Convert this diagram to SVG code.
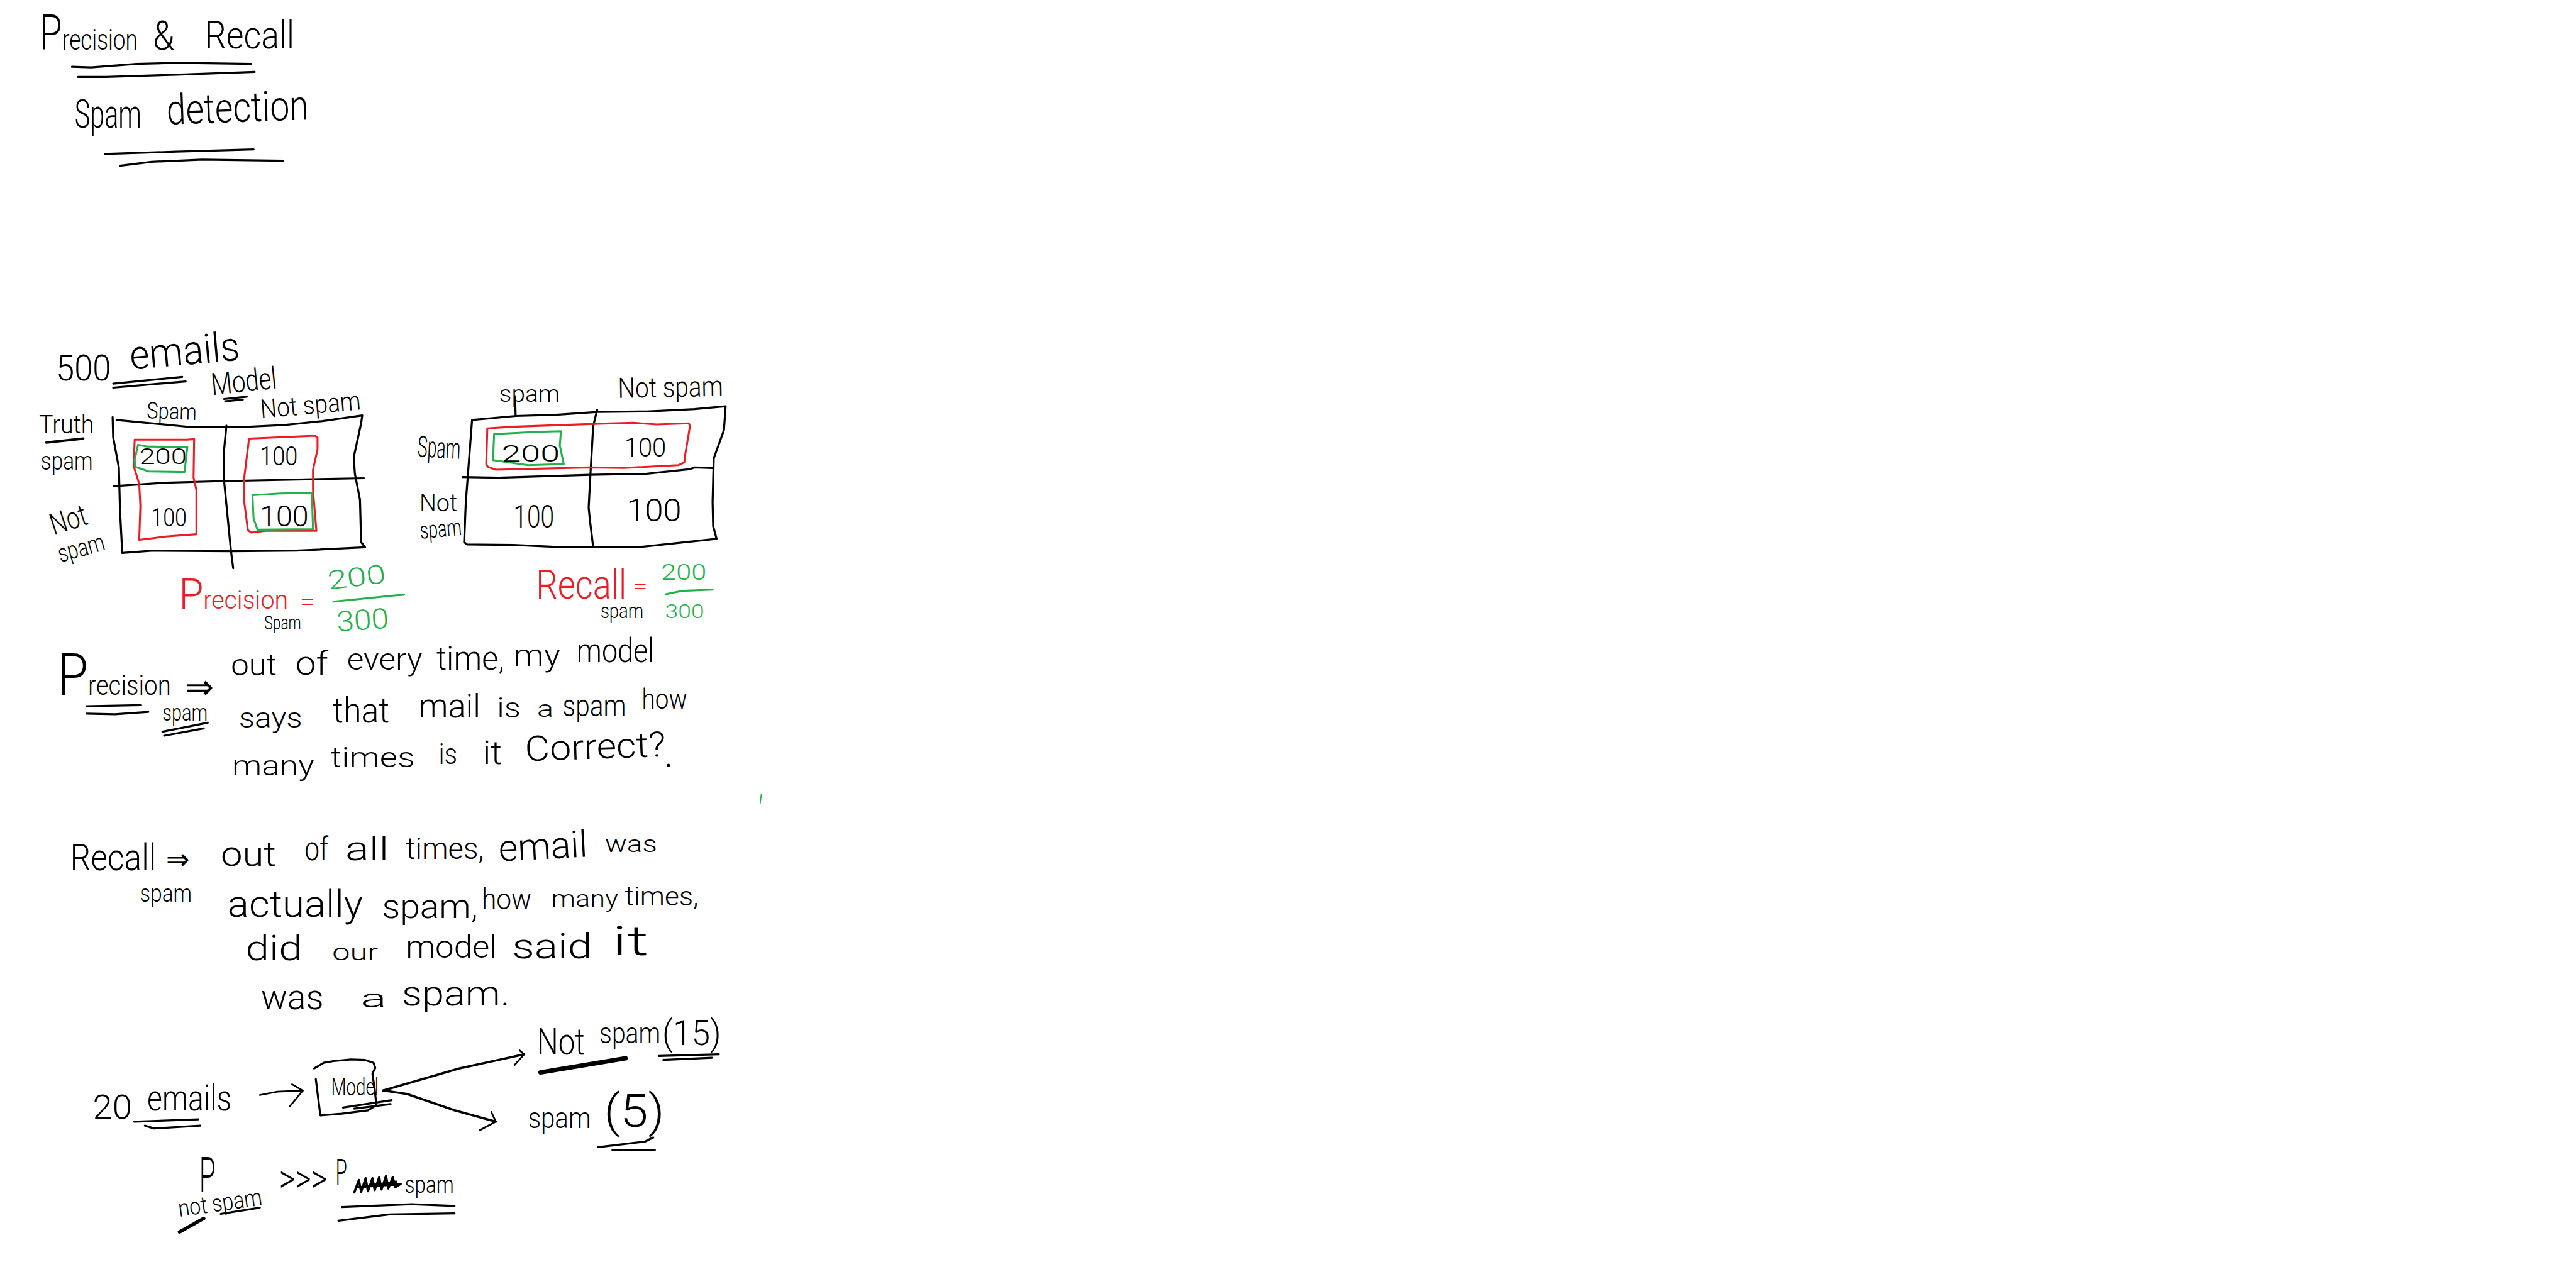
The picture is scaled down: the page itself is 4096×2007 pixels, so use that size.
<svg xmlns="http://www.w3.org/2000/svg" width="4096" height="2007" viewBox="0 0 4096 2007">
<style>
text{font-family:"Roboto","Liberation Sans",sans-serif;font-weight:300;fill:#000}
text.r{fill:#ed1c24}
text.g{fill:#22b14c}
polyline,path{fill:none;stroke:#000;stroke-width:3.6;stroke-linecap:round;stroke-linejoin:round}
.red{stroke:#ed1c24;stroke-width:3.4}
.grn{stroke:#22b14c;stroke-width:3.4}
.arrow{stroke-width:3}
</style>
<rect width="4096" height="2007" fill="#fff"/>
<g transform="scale(0.9)">
<g id="title">
<text x="70" y="88" font-size="52" textLength="173" lengthAdjust="spacingAndGlyphs"><tspan font-size="86">P</tspan>recision</text>
<text x="270" y="88" font-size="72" textLength="38" lengthAdjust="spacingAndGlyphs">&amp;</text>
<text x="362" y="86" font-size="68" textLength="158" lengthAdjust="spacingAndGlyphs">Recall</text>
<polyline points="127,118 161,119 241,113 312,111 444,113"/>
<polyline points="138,136 187,136 312,132 450,127"/>
<text x="132" y="225" font-size="70" textLength="118" lengthAdjust="spacingAndGlyphs">Spam</text>
<text x="295" y="220" font-size="74" textLength="251" lengthAdjust="spacingAndGlyphs" transform="rotate(-2 295 220)">detection</text>
<polyline points="185,272 312,268 448,264"/>
<polyline points="212,293 268,286 357,282 500,284"/>
</g>
<g id="precision-table">
<text x="99" y="672" font-size="64" textLength="97" lengthAdjust="spacingAndGlyphs">500</text>
<text x="231" y="653" font-size="72" textLength="195" lengthAdjust="spacingAndGlyphs" transform="rotate(-5 231 653)">emails</text>
<polyline points="200,678 322,666"/>
<polyline points="200,685 328,674"/>
<text x="375" y="698" font-size="54" textLength="116" lengthAdjust="spacingAndGlyphs" transform="rotate(-6 375 698)">Model</text>
<polyline points="396,705 436,701"/>
<polyline points="398,709 429,706"/>
<text x="259" y="739" font-size="40" textLength="88" lengthAdjust="spacingAndGlyphs" transform="rotate(2 259 739)">Spam</text>
<text x="461" y="739" font-size="46" textLength="178" lengthAdjust="spacingAndGlyphs" transform="rotate(-5 461 739)">Not spam</text>
<text x="69" y="766" font-size="46" textLength="97" lengthAdjust="spacingAndGlyphs">Truth</text>
<polyline style="stroke-width:4.5" points="82,782 147,775"/>
<text x="72" y="830" font-size="46" textLength="92" lengthAdjust="spacingAndGlyphs">spam</text>
<text x="95" y="946" font-size="54" textLength="66" lengthAdjust="spacingAndGlyphs" transform="rotate(-18 95 946)">Not</text>
<text x="107" y="994" font-size="44" textLength="84" lengthAdjust="spacingAndGlyphs" transform="rotate(-16 107 994)">spam</text>
<polyline points="199,737 200,773 210,826 212,901 216,977 271,973 410,974 524,973 645,967 638,958 636,883 627,837 625,808 638,748 640,734 570,744 503,751 419,755 341,755 206,742"/>
<polyline points="201,859 293,853 398,850 643,845"/>
<polyline points="400,752 396,794 396,851 408,973 412,1004"/>
<polyline class="red" points="238,777 236,823 246,855 248,894 246,954 293,948 347,944 347,866 342,844 343,776 330,777 238,777"/>
<polyline class="grn" points="244,786 238,812 239,825 263,833 326,834 331,790 259,789 244,786"/>
<polyline class="red" points="440,775 431,848 431,883 438,937 444,941 469,938 559,938 553,866 553,830 561,794 561,773 556,770 440,775"/>
<polyline class="grn" points="446,875 448,916 455,936 553,935 551,871 495,872 446,875"/>
<text x="246" y="820" font-size="38" textLength="84" lengthAdjust="spacingAndGlyphs">200</text>
<text x="459" y="822" font-size="48" textLength="67" lengthAdjust="spacingAndGlyphs">100</text>
<text x="267" y="930" font-size="46" textLength="63" lengthAdjust="spacingAndGlyphs">100</text>
<text x="459" y="930" font-size="52" textLength="86" lengthAdjust="spacingAndGlyphs">100</text>
<text class="r" x="316" y="1076" font-size="46" textLength="193" lengthAdjust="spacingAndGlyphs"><tspan font-size="74">P</tspan>recision</text>
<text class="r" x="530" y="1078" font-size="44" textLength="26" lengthAdjust="spacingAndGlyphs">=</text>
<text x="467" y="1112" font-size="34" textLength="65" lengthAdjust="spacingAndGlyphs">Spam</text>
<text class="g" x="581" y="1042" font-size="46" textLength="103" lengthAdjust="spacingAndGlyphs" transform="rotate(-7 581 1042)">200</text>
<polyline class="grn" points="589,1063 700,1052 714,1051"/>
<text class="g" x="596" y="1116" font-size="50" textLength="92" lengthAdjust="spacingAndGlyphs" transform="rotate(-4 596 1116)">300</text>
</g>
<g id="recall-table">
<text x="882" y="710" font-size="42" textLength="107" lengthAdjust="spacingAndGlyphs">spam</text>
<text x="1092" y="703" font-size="50" textLength="186" lengthAdjust="spacingAndGlyphs" transform="rotate(-1 1092 703)">Not spam</text>
<text x="737" y="807" font-size="52" textLength="76" lengthAdjust="spacingAndGlyphs" transform="rotate(3 737 807)">Spam</text>
<text x="741" y="903" font-size="44" textLength="67" lengthAdjust="spacingAndGlyphs">Not</text>
<text x="743" y="952" font-size="42" textLength="74" lengthAdjust="spacingAndGlyphs" transform="rotate(-5 743 952)">spam</text>
<polyline points="910,700 911,735"/>
<polyline points="834,742 911,735 983,733 1055,728 1143,727 1227,723 1282,718 1279,760 1261,810 1259,887 1260,930 1266,952 1126,967 1048,967 996,967 907,963 825,962 820,958 823,887 834,742"/>
<polyline points="817,843 882,844 1042,839 1143,837 1219,829 1227,826 1259,827"/>
<polyline points="1055,724 1048,753 1043,840 1040,897 1042,917 1048,967"/>
<polyline class="red" points="861,757 859,820 862,825 876,830 1042,826 1101,827 1198,822 1209,817 1210,807 1219,753 1217,748 1160,750 1118,747 1050,749 907,754 861,757"/>
<polyline class="grn" points="873,767 871,813 933,822 996,820 989,787 991,762 949,763 873,767"/>
<text x="886" y="816" font-size="42" textLength="103" lengthAdjust="spacingAndGlyphs">200</text>
<text x="1103" y="807" font-size="48" textLength="74" lengthAdjust="spacingAndGlyphs">100</text>
<text x="907" y="932" font-size="56" textLength="72" lengthAdjust="spacingAndGlyphs">100</text>
<text x="1107" y="921" font-size="56" textLength="97" lengthAdjust="spacingAndGlyphs">100</text>
<text class="r" x="947" y="1058" font-size="72" textLength="160" lengthAdjust="spacingAndGlyphs">Recall</text>
<text class="r" x="1118" y="1050" font-size="40" textLength="26" lengthAdjust="spacingAndGlyphs">=</text>
<text class="g" x="1168" y="1024" font-size="38" textLength="80" lengthAdjust="spacingAndGlyphs">200</text>
<polyline class="grn" points="1176,1050 1206,1044 1259,1042"/>
<text class="g" x="1175" y="1092" font-size="34" textLength="69" lengthAdjust="spacingAndGlyphs">300</text>
<text x="1061" y="1092" font-size="36" textLength="76" lengthAdjust="spacingAndGlyphs">spam</text>
</g>
<g id="precision-definition">
<text x="101" y="1228" font-size="50" textLength="201" lengthAdjust="spacingAndGlyphs"><tspan font-size="104">P</tspan>recision</text>
<text x="327" y="1234" font-size="60" textLength="51" lengthAdjust="spacingAndGlyphs" style="font-family:'DejaVu Sans',sans-serif">⇒</text>
<polyline points="153,1248 248,1246"/>
<polyline points="153,1261 203,1262 262,1258"/>
<text x="287" y="1273" font-size="40" textLength="80" lengthAdjust="spacingAndGlyphs">spam</text>
<polyline points="287,1293 367,1277"/>
<polyline points="290,1300 360,1287"/>
<text x="408" y="1193" font-size="54" textLength="81" lengthAdjust="spacingAndGlyphs">out</text>
<text x="522" y="1192" font-size="58" textLength="58" lengthAdjust="spacingAndGlyphs">of</text>
<text x="613" y="1183" font-size="54" textLength="133" lengthAdjust="spacingAndGlyphs">every</text>
<text x="771" y="1183" font-size="58" textLength="120" lengthAdjust="spacingAndGlyphs">time,</text>
<text x="907" y="1177" font-size="54" textLength="83" lengthAdjust="spacingAndGlyphs">my</text>
<text x="1019" y="1170" font-size="60" textLength="137" lengthAdjust="spacingAndGlyphs">model</text>
<text x="422" y="1285" font-size="50" textLength="112" lengthAdjust="spacingAndGlyphs">says</text>
<text x="588" y="1277" font-size="62" textLength="100" lengthAdjust="spacingAndGlyphs">that</text>
<text x="740" y="1268" font-size="58" textLength="109" lengthAdjust="spacingAndGlyphs">mail</text>
<text x="878" y="1268" font-size="50" textLength="42" lengthAdjust="spacingAndGlyphs">is</text>
<text x="949" y="1267" font-size="42" textLength="29" lengthAdjust="spacingAndGlyphs">a</text>
<text x="994" y="1265" font-size="54" textLength="112" lengthAdjust="spacingAndGlyphs">spam</text>
<text x="1134" y="1252" font-size="50" textLength="80" lengthAdjust="spacingAndGlyphs">how</text>
<text x="410" y="1370" font-size="50" textLength="145" lengthAdjust="spacingAndGlyphs">many</text>
<text x="584" y="1355" font-size="50" textLength="149" lengthAdjust="spacingAndGlyphs">times</text>
<text x="775" y="1350" font-size="52" textLength="33" lengthAdjust="spacingAndGlyphs">is</text>
<text x="853" y="1350" font-size="58" textLength="34" lengthAdjust="spacingAndGlyphs">it</text>
<text x="928" y="1345" font-size="62" textLength="249" lengthAdjust="spacingAndGlyphs" transform="rotate(-2 928 1345)">Correct?</text>
<polyline style="stroke-width:5" points="1181,1352 1181,1353"/>
<polyline class="grn" style="stroke-width:2" points="1345,1404 1343,1420"/>
</g>
<g id="recall-definition">
<text x="124" y="1538" font-size="66" textLength="152" lengthAdjust="spacingAndGlyphs">Recall</text>
<text x="293" y="1535" font-size="50" textLength="42" lengthAdjust="spacingAndGlyphs" style="font-family:'DejaVu Sans',sans-serif">⇒</text>
<text x="247" y="1593" font-size="44" textLength="92" lengthAdjust="spacingAndGlyphs">spam</text>
<text x="390" y="1530" font-size="62" textLength="98" lengthAdjust="spacingAndGlyphs">out</text>
<text x="538" y="1520" font-size="58" textLength="42" lengthAdjust="spacingAndGlyphs">of</text>
<text x="610" y="1520" font-size="58" textLength="77" lengthAdjust="spacingAndGlyphs">all</text>
<text x="717" y="1518" font-size="54" textLength="138" lengthAdjust="spacingAndGlyphs">times,</text>
<text x="882" y="1522" font-size="66" textLength="157" lengthAdjust="spacingAndGlyphs" transform="rotate(-3 882 1522)">email</text>
<text x="1069" y="1505" font-size="42" textLength="92" lengthAdjust="spacingAndGlyphs">was</text>
<text x="402" y="1620" font-size="66" textLength="239" lengthAdjust="spacingAndGlyphs">actually</text>
<text x="675" y="1622" font-size="60" textLength="169" lengthAdjust="spacingAndGlyphs">spam,</text>
<text x="851" y="1607" font-size="52" textLength="88" lengthAdjust="spacingAndGlyphs">how</text>
<text x="974" y="1602" font-size="42" textLength="118" lengthAdjust="spacingAndGlyphs">many</text>
<text x="1104" y="1600" font-size="48" textLength="130" lengthAdjust="spacingAndGlyphs">times,</text>
<text x="434" y="1697" font-size="62" textLength="100" lengthAdjust="spacingAndGlyphs">did</text>
<text x="587" y="1697" font-size="42" textLength="81" lengthAdjust="spacingAndGlyphs">our</text>
<text x="717" y="1692" font-size="56" textLength="161" lengthAdjust="spacingAndGlyphs">model</text>
<text x="905" y="1693" font-size="62" textLength="141" lengthAdjust="spacingAndGlyphs">said</text>
<text x="1081" y="1688" font-size="72" textLength="65" lengthAdjust="spacingAndGlyphs">it</text>
<text x="461" y="1783" font-size="62" textLength="111" lengthAdjust="spacingAndGlyphs">was</text>
<text x="637" y="1780" font-size="46" textLength="46" lengthAdjust="spacingAndGlyphs">a</text>
<text x="710" y="1777" font-size="62" textLength="191" lengthAdjust="spacingAndGlyphs">spam.</text>
</g>
<g id="input-emails">
<text x="164" y="1977" font-size="60" textLength="69" lengthAdjust="spacingAndGlyphs">20</text>
<text x="260" y="1962" font-size="64" textLength="149" lengthAdjust="spacingAndGlyphs">emails</text>
<polyline points="237,1982 350,1978"/>
<polyline points="256,1989 272,1994 354,1989"/>
</g>
<g id="model-node">
<polyline points="555,1888 572,1878 589,1875 620,1872 645,1873 660,1878 663,1887 658,1897 662,1925 665,1953 650,1962 604,1968 566,1971 558,1907"/>
<text x="585" y="1935" font-size="44" textLength="84" lengthAdjust="spacingAndGlyphs">Model</text>
<polyline points="606,1957 692,1944"/>
<polyline points="626,1959 690,1951"/>
</g>
<g id="output-not-spam">
<text x="949" y="1863" font-size="66" textLength="84" lengthAdjust="spacingAndGlyphs">Not</text>
<text x="1059" y="1843" font-size="52" textLength="108" lengthAdjust="spacingAndGlyphs">spam</text>
<text x="1170" y="1847" font-size="62" textLength="104" lengthAdjust="spacingAndGlyphs">(15)</text>
<polyline style="stroke-width:8" points="955,1895 1105,1870"/>
<polyline points="1164,1866 1270,1863"/>
<polyline points="1172,1873 1258,1869"/>
</g>
<g id="output-spam">
<text x="933" y="1993" font-size="52" textLength="111" lengthAdjust="spacingAndGlyphs">spam</text>
<text x="1067" y="1991" font-size="80" textLength="107" lengthAdjust="spacingAndGlyphs">(5)</text>
<polyline points="1057,2027 1140,2017 1154,2010"/>
<polyline points="1082,2032 1157,2032"/>
</g>
<g id="connectors">
<polyline class="arrow" points="459,1935 490,1929 535,1927"/>
<polyline class="arrow" points="516,1916 535,1927 512,1955"/>
<polyline class="arrow" style="stroke-width:4" points="677,1927 811,1888 926,1863"/>
<polyline class="arrow" points="918,1856 926,1863 909,1882"/>
<polyline class="arrow" style="stroke-width:4" points="677,1927 719,1933 803,1962 876,1982"/>
<polyline class="arrow" points="868,1965 876,1982 848,1997"/>
</g>
<g id="comparison">
<text x="352" y="2107" font-size="86" textLength="29" lengthAdjust="spacingAndGlyphs">P</text>
<text x="317" y="2150" font-size="42" textLength="149" lengthAdjust="spacingAndGlyphs" transform="rotate(-8 317 2150)">not spam</text>
<polyline style="stroke-width:6" points="317,2177 360,2153"/>
<polyline points="390,2145 459,2134"/>
<text x="493" y="2107" font-size="70" textLength="85" lengthAdjust="spacingAndGlyphs">&gt;&gt;&gt;</text>
<text x="593" y="2093" font-size="64" textLength="20" lengthAdjust="spacingAndGlyphs">P</text>
<polyline style="stroke-width:4" points="626,2107 634,2085 638,2106 646,2082 650,2105 658,2082 662,2103 670,2080 674,2102 682,2078 686,2100 694,2080 698,2098 708,2092 630,2098 700,2088"/>
<text x="715" y="2108" font-size="44" textLength="87" lengthAdjust="spacingAndGlyphs">spam</text>
<polyline points="604,2133 727,2128 803,2131"/>
<polyline points="598,2157 688,2146 803,2144"/>
</g>
</g>
</svg>
